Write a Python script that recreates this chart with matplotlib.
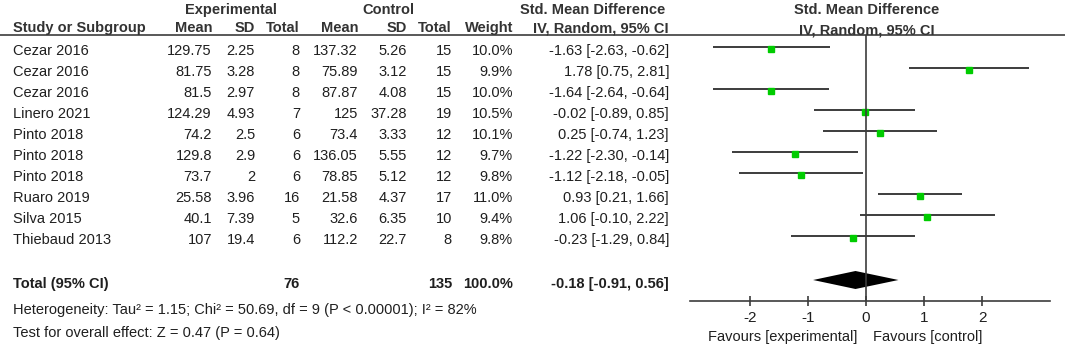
import matplotlib.pyplot as plt
import numpy as np

# data
studies = ["Cezar 2016", "Cezar 2016", "Cezar 2016", "Linero 2021", "Pinto 2018",
           "Pinto 2018", "Pinto 2018", "Ruaro 2019", "Silva 2015", "Thiebaud 2013"]
exp_mean = [129.75, 81.75, 81.5, 124.29, 74.2, 129.8, 73.7, 25.58, 40.1, 107]
exp_sd = [2.25, 3.28, 2.97, 4.93, 2.5, 2.9, 2, 3.96, 7.39, 19.4]
exp_n = [8, 8, 8, 7, 6, 6, 6, 16, 5, 6]
ctl_mean = [137.32, 75.89, 87.87, 125, 73.4, 136.05, 78.85, 21.58, 32.6, 112.2]
ctl_sd = [5.26, 3.12, 4.08, 37.28, 3.33, 5.55, 5.12, 4.37, 6.35, 22.7]
ctl_n = [15, 15, 15, 19, 12, 12, 12, 17, 10, 8]
weight = [10.0, 9.9, 10.0, 10.5, 10.1, 9.7, 9.8, 11.0, 9.4, 9.8]
smd = [-1.63, 1.78, -1.64, -0.02, 0.25, -1.22, -1.12, 0.93, 1.06, -0.23]
ci_lo = [-2.63, 0.75, -2.64, -0.89, -0.74, -2.30, -2.18, 0.21, -0.10, -1.29]
ci_hi = [-0.62, 2.81, -0.64, 0.85, 1.23, -0.14, -0.05, 1.66, 2.22, 0.84]

total_exp_n = 76
total_ctl_n = 135
total_weight = 100.0
total_smd, total_lo, total_hi = -0.18, -0.91, 0.56
heterogeneity = "Heterogeneity: Tau² = 1.15; Chi² = 50.69, df = 9 (P < 0.00001); I² = 82%"
overall = "Test for overall effect: Z = 0.47 (P = 0.64)"
xticks = [-2, -1, 0, 1, 2]

plt.rcParams['font.family'] = ['Liberation Sans', 'DejaVu Sans']
fs = 10.5
txt = '#1f1f1f'
grey = '#3c3c3c'

W, H = 1065, 347
fig = plt.figure(figsize=(W / 100, H / 100), dpi=100)

# full-figure axes in pixel units for the table text
tab = fig.add_axes([0, 0, 1, 1])
tab.set_xlim(0, W)
tab.set_ylim(H, 0)
tab.axis('off')

# forest panel
ax = fig.add_axes([690 / W, 1 - 301 / H, 360 / W, (301 - 35) / H])
row_top, row_step = 47, 21
total_row = (280 - row_top) / row_step
ax.set_ylim((301 - row_top) / row_step, (35 - row_top) / row_step)
ax.set_xlim(-3.03, 3.17)

rows = np.arange(len(studies))
ax.hlines(rows, ci_lo, ci_hi, color=grey, lw=1.4)
ax.plot(smd, rows + 0.08, 's', color='#00cc00', ms=4, mec='#00cc00')
ax.axvline(0, color=grey, lw=1.2)
dh = 9 / row_step
ax.fill([total_lo, total_smd, total_hi, total_smd],
        [total_row, total_row - dh, total_row, total_row + dh], color='black', lw=0)

for s in ['top', 'left', 'right']:
    ax.spines[s].set_visible(False)
ax.spines['bottom'].set_color(grey)
ax.spines['bottom'].set_linewidth(1.2)
ax.set_yticks([])
ax.set_xticks(xticks)
ax.set_xticklabels([str(t) for t in xticks])
ax.tick_params(axis='x', direction='inout', length=7, width=1.2, color=grey,
               labelsize=fs + 0.5, labelcolor=txt, pad=4)
ax.patch.set_alpha(0)

# header
tab.plot([0, W], [35, 35], color=grey, lw=1.2)
bold = dict(fontsize=fs, fontweight='bold', color='#333333', va='center')
tab.text(231, 10, "Experimental", ha='center', **bold)
tab.text(388, 10, "Control", ha='center', **bold)
tab.text(593, 10, "Std. Mean Difference", ha='center', **bold)
tab.text(867, 10, "Std. Mean Difference", ha='center', **bold)
tab.text(867, 30, "IV, Random, 95% CI", ha='center', **bold)
tab.text(13, 28, "Study or Subgroup", ha='left', **bold)
col_right = [212, 255, 300, 358, 407, 452, 513, 669]
headers = ["Mean", "SD", "Total", "Mean", "SD", "Total", "Weight", "IV, Random, 95% CI"]
for x, h in zip(col_right, headers):
    tab.text(x, 28, h, ha='right', **bold)

# study rows
norm = dict(fontsize=fs, color=txt, va='center')
for i in rows:
    y = row_top + row_step * i + 4
    cells = [f"{exp_mean[i]:g}", f"{exp_sd[i]:g}", f"{exp_n[i]}",
             f"{ctl_mean[i]:g}", f"{ctl_sd[i]:g}", f"{ctl_n[i]}",
             f"{weight[i]:.1f}%",
             f"{smd[i]:.2f} [{ci_lo[i]:.2f}, {ci_hi[i]:.2f}]"]
    tab.text(13, y, studies[i], ha='left', **norm)
    for x, c in zip(col_right, cells):
        tab.text(x, y, c, ha='right', **norm)

# total row
yt = 284
tb = dict(fontsize=fs, fontweight='bold', color=txt, va='center')
tab.text(13, yt, "Total (95% CI)", ha='left', **tb)
tab.text(col_right[2], yt, f"{total_exp_n}", ha='right', **tb)
tab.text(col_right[5], yt, f"{total_ctl_n}", ha='right', **tb)
tab.text(col_right[6], yt, f"{total_weight:.1f}%", ha='right', **tb)
tab.text(col_right[7], yt, f"{total_smd:.2f} [{total_lo:.2f}, {total_hi:.2f}]", ha='right', **tb)

tab.text(13, 310, heterogeneity, ha='left', **norm)
tab.text(13, 333, overall, ha='left', **norm)

tab.text(857, 337, "Favours [experimental]", ha='right', **norm)
tab.text(873, 337, "Favours [control]", ha='left', **norm)

fig.savefig("out.png", dpi=100)
